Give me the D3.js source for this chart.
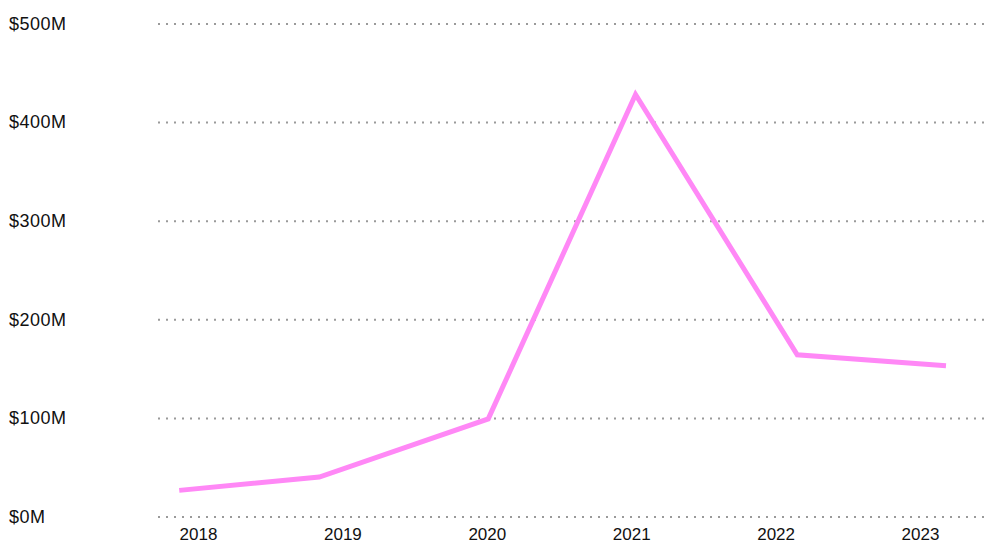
<!DOCTYPE html>
<html>
<head>
<meta charset="utf-8">
<script src="https://cdn.jsdelivr.net/npm/d3@7"></script>
<style>
  body { margin: 0; background: #fff; }
  svg text { font-family: "Liberation Sans", Arial, sans-serif; font-size: 17px; fill: #111; }
</style>
</head>
<body>
<script>
// years on the axis
var years = [2018, 2019, 2020, 2021, 2022, 2023];
// where each reading falls on the time axis (fractional years)
var pointTimes = [2017.87, 2018.84, 2020.01, 2021.03, 2022.15, 2023.18];
// funding, $M
var fundingM = [26.5, 40, 99, 428, 164, 153];
var yTicks = [0, 100, 200, 300, 400, 500];

var width = 990, height = 543;
var gridLeft = 158, gridRight = 985;

var svg = d3.select('body').append('svg')
  .attr('width', width)
  .attr('height', height);

var x = d3.scaleLinear().domain([2018, 2023]).range([198, 920]);
var y = d3.scaleLinear().domain([0, 500]).range([516.5, 23.5]);

// dotted grid
var grid = svg.append('g')
  .attr('transform', 'translate(' + gridLeft + ',0)')
  .call(d3.axisLeft(y).tickValues(yTicks).tickSize(-(gridRight - gridLeft)).tickFormat(''));
grid.select('.domain').remove();
grid.selectAll('line')
  .attr('stroke', '#9a9a9a')
  .attr('stroke-width', 2)
  .attr('stroke-dasharray', '2,6');

// y labels, left aligned
svg.append('g').selectAll('text')
  .data(yTicks)
  .enter().append('text')
  .attr('x', 9)
  .attr('y', function(d) { return y(d); })
  .attr('dy', '0.35em')
  .style('font-size', '18px')
  .style('letter-spacing', '0.5px')
  .text(function(d) { return '$' + d + 'M'; });

// x axis labels
var xAxis = svg.append('g')
  .attr('transform', 'translate(0,525)')
  .call(d3.axisBottom(x).tickValues(years).tickSize(0).tickFormat(d3.format('d')));
xAxis.select('.domain').remove();
xAxis.selectAll('text')
  .attr('fill', '#111')
  .style('font-size', '17px')
  .style('font-family', '"Liberation Sans", Arial, sans-serif');

var line = d3.line()
  .x(function(d, i) { return x(pointTimes[i]); })
  .y(function(d) { return y(d); });

svg.append('path')
  .datum(fundingM)
  .attr('d', line)
  .attr('fill', 'none')
  .attr('stroke', '#ff88f6')
  .attr('stroke-width', 5);
</script>
</body>
</html>
